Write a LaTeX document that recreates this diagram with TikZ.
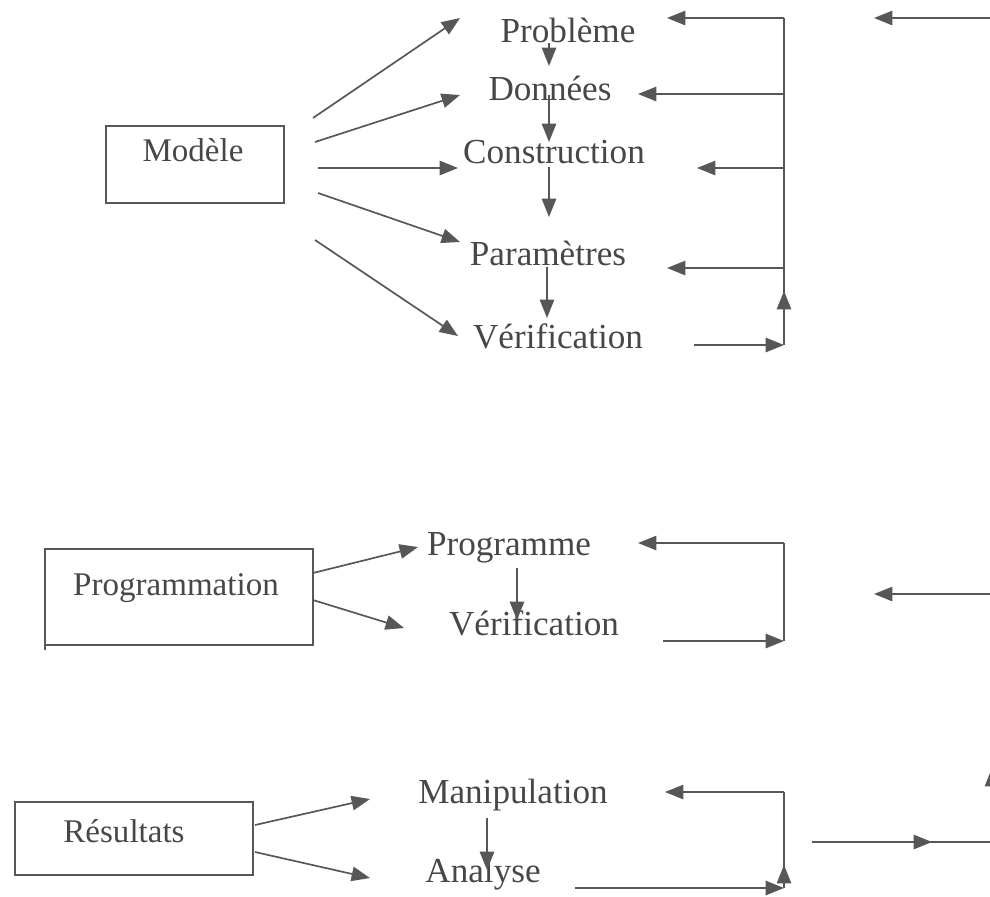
\documentclass[tikz,border=0pt]{standalone}
\usepackage{fontspec}
\setmainfont{Liberation Serif}
\usetikzlibrary{arrows.meta}

\begin{document}
\begin{tikzpicture}[x=0.025cm,y=-0.025cm,
  line width=1.2pt,draw=black!66,
  ar/.style={-{Triangle[length=4.6mm,width=3.6mm]}},
  lbl/.style={anchor=base,inner sep=0pt,text=black!72,font=\fontsize{25}{30}\selectfont},
  boxlbl/.style={anchor=base,inner sep=0pt,text=black!72,font=\fontsize{23.5}{28}\selectfont},
  frame/.style={draw=black!66,line width=1.2pt}]
\clip (0,0) rectangle (990,896);
% ===== Modele block =====
\draw[frame] (106,126) rectangle (284,203);
\node[boxlbl] (mod) at (193,161) {Modèle};
\node[lbl] (pb) at (568,42) {Problème};
\node[lbl] (dn) at (550,100) {Données};
\node[lbl] (cs) at (554,163) {Construction};
\node[lbl] (pa) at (548,265) {Paramètres};
\node[lbl] (ve) at (558,348) {Vérification};
\draw[ar] (313,118)--(460,18);
\draw[ar] (315,142)--(460,95);
\draw[ar] (318,168)--(458,168);
\draw[ar] (318,193)--(460,242);
\draw[ar] (315,240)--(458,336);
% chain down the column
\draw[ar] (549,43)--(549,66);
\draw[ar] (549,95)--(549,142);
\draw[ar] (549,167)--(549,217);
\draw[ar] (547,267)--(547,318);
% feedback loop on the right
\draw (784,18)--(784,345);
\draw[ar] (784,18)--(667,18);
\draw[ar] (784,94)--(638,94);
\draw[ar] (784,168)--(697,168);
\draw[ar] (784,268)--(667,268);
\draw[ar] (694,345)--(784,345);
\draw[ar] (784,345)--(784,291);
\draw[ar] (1000,18)--(874,18);
% ===== Programmation block =====
\draw[frame] (45,650)--(45,549)--(313,549)--(313,645)--(45,645);
\node[boxlbl] (prg) at (176,595) {Programmation};
\node[lbl] (pm) at (509,555) {Programme};
\node[lbl] (v2) at (534,635) {Vérification};
\draw[ar] (313,573)--(418,547);
\draw[ar] (313,600)--(404,628);
\draw[ar] (517,568)--(517,620);
\draw (784,543)--(784,641);
\draw[ar] (784,543)--(638,543);
\draw[ar] (663,641)--(784,641);
\draw[ar] (1000,594)--(874,594);
% ===== Resultats block =====
\draw[frame] (15,802) rectangle (253,875);
\node[boxlbl] (res) at (124,842) {Résultats};
\node[lbl] (mp) at (513,803) {Manipulation};
\node[lbl] (an) at (483,882) {Analyse};
\draw[ar] (255,825)--(370,799);
\draw[ar] (255,852)--(370,878);
\draw[ar] (487,818)--(487,870);
\draw (784,792)--(784,888);
\draw[ar] (784,792)--(665,792);
\draw[ar] (575,888)--(784,888);
\draw[ar] (784,888)--(784,865);
\draw[ar] (812,842)--(932,842);
\draw (925,842)--(1000,842);
\draw[ar] (992,842)--(992,768);
\end{tikzpicture}
\end{document}
